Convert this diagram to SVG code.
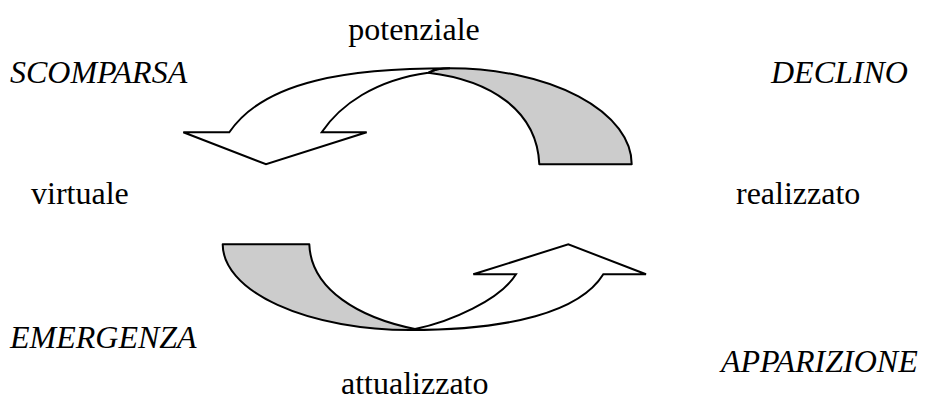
<svg xmlns="http://www.w3.org/2000/svg" width="926" height="398" viewBox="0 0 926 398">
<style>
text{font-family:'Liberation Serif','Times New Roman',Times,'DejaVu Serif',serif;font-size:32px;fill:#000}
.i{font-style:italic}
.g{fill:#cccccc;stroke:#000;stroke-width:2;stroke-linejoin:round}
.w{fill:#ffffff;stroke:#000;stroke-width:2;stroke-linejoin:miter}
</style>
<rect width="926" height="398" fill="#fff"/>
<g id="connectors">
<g id="arrow-top">
<path class="g" d="M428.3,72.7 C490,80 537,110 539.3,164.3 L631.7,164.3 A181.7 96 0 0 0 450,68.3 C440,68.3 433,70 428.3,72.7 Z"/>
<path class="w" d="M229.3,132.3 L183.3,132.3 L266,164.3 L366.7,132.3 L321.7,132.3 C340,105 375,80 428.3,72.7 C433,70 440,68.3 450,68.3 C350,68.3 265,80 229.3,132.3 Z"/>
</g>
<g id="arrow-bottom">
<path class="g" d="M222.7,244.3 L309.3,244.3 C311,290 360,318 415,329 C413,329.6 411,330 410,330 A187.3 85.7 0 0 1 222.7,244.3 Z"/>
<path class="w" d="M415,329 C450,322 500,300 516,274.3 L473.3,274.3 L568.3,244.3 L646,274.3 L603.3,274.3 C580,312 510,330 410,330 C412,330 413.5,329.6 415,329 Z"/>
</g>
</g>
<g id="potenziale"><text font-family="Liberation Serif, serif" x="414" y="39.5" text-anchor="middle">potenziale</text></g>
<g id="scomparsa"><text class="i" font-family="Liberation Serif, serif" x="10" y="83">SCOMPARSA</text></g>
<g id="declino"><text class="i" font-family="Liberation Serif, serif" x="771" y="83">DECLINO</text></g>
<g id="virtuale"><text font-family="Liberation Serif, serif" x="31" y="204">virtuale</text></g>
<g id="realizzato"><text font-family="Liberation Serif, serif" x="736" y="204">realizzato</text></g>
<g id="emergenza"><text class="i" font-family="Liberation Serif, serif" x="10" y="348">EMERGENZA</text></g>
<g id="attualizzato"><text font-family="Liberation Serif, serif" x="341" y="394">attualizzato</text></g>
<g id="apparizione"><text class="i" font-family="Liberation Serif, serif" x="721" y="371.5">APPARIZIONE</text></g>
</svg>
